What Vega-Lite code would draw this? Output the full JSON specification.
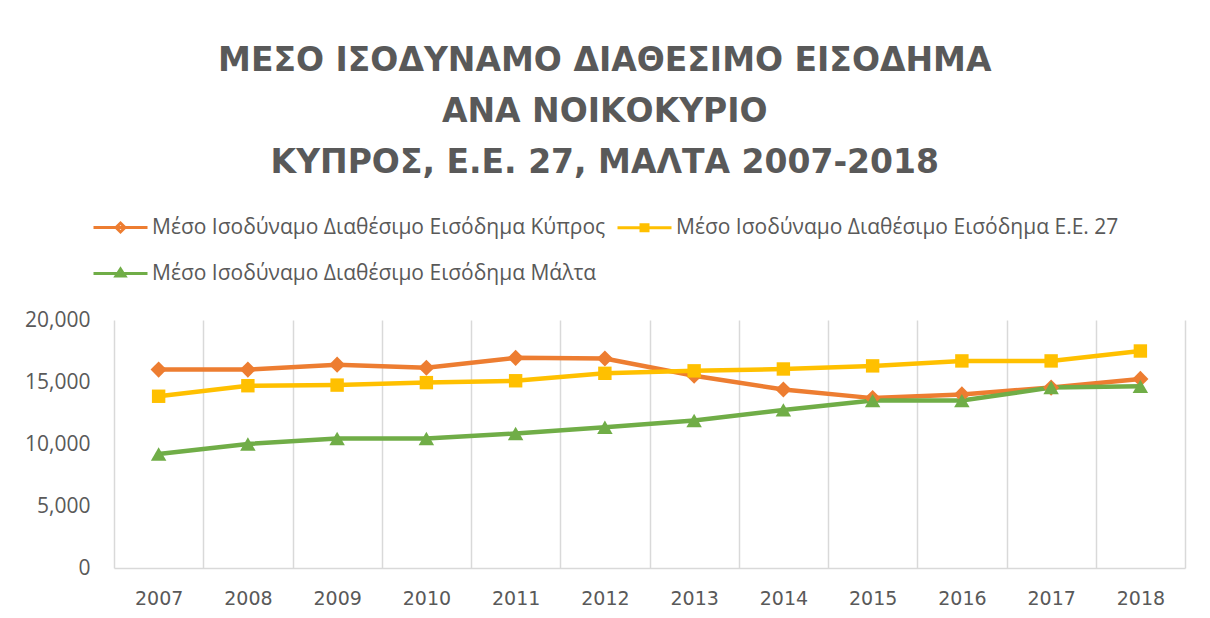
{
  "$schema": "https://vega.github.io/schema/vega-lite/v6.json",
  "width": 1071,
  "height": 248,
  "autosize": {"type": "none"},
  "padding": {"left": 114, "top": 320, "right": 25, "bottom": 50},
  "background": "white",
  "config": {
    "view": {"stroke": null},
    "font": "Open Sans"
  },
  "title": {
    "text": ["ΜΕΣΟ ΙΣΟΔΥΝΑΜΟ ΔΙΑΘΕΣΙΜΟ ΕΙΣΟΔΗΜΑ", "ΑΝΑ ΝΟΙΚΟΚΥΡΙΟ", "ΚΥΠΡΟΣ, Ε.Ε. 27, ΜΑΛΤΑ 2007-2018"],
    "font": "DejaVu Sans",
    "fontSize": 33,
    "fontWeight": "bold",
    "color": "#595959",
    "lineHeight": 51,
    "anchor": "middle",
    "frame": "bounds",
    "offset": 36
  },
  "resolve": {"legend": {"color": "independent", "shape": "independent"}},
  "data": {
    "values": [
      {"year": "2007", "series": "Μέσο Ισοδύναμο Διαθέσιμο Εισόδημα Κύπρος", "value": 16000},
      {"year": "2008", "series": "Μέσο Ισοδύναμο Διαθέσιμο Εισόδημα Κύπρος", "value": 16000},
      {"year": "2009", "series": "Μέσο Ισοδύναμο Διαθέσιμο Εισόδημα Κύπρος", "value": 16400},
      {"year": "2010", "series": "Μέσο Ισοδύναμο Διαθέσιμο Εισόδημα Κύπρος", "value": 16150},
      {"year": "2011", "series": "Μέσο Ισοδύναμο Διαθέσιμο Εισόδημα Κύπρος", "value": 16950},
      {"year": "2012", "series": "Μέσο Ισοδύναμο Διαθέσιμο Εισόδημα Κύπρος", "value": 16900},
      {"year": "2013", "series": "Μέσο Ισοδύναμο Διαθέσιμο Εισόδημα Κύπρος", "value": 15500},
      {"year": "2014", "series": "Μέσο Ισοδύναμο Διαθέσιμο Εισόδημα Κύπρος", "value": 14400},
      {"year": "2015", "series": "Μέσο Ισοδύναμο Διαθέσιμο Εισόδημα Κύπρος", "value": 13700},
      {"year": "2016", "series": "Μέσο Ισοδύναμο Διαθέσιμο Εισόδημα Κύπρος", "value": 14000},
      {"year": "2017", "series": "Μέσο Ισοδύναμο Διαθέσιμο Εισόδημα Κύπρος", "value": 14550},
      {"year": "2018", "series": "Μέσο Ισοδύναμο Διαθέσιμο Εισόδημα Κύπρος", "value": 15250},
      {"year": "2007", "series": "Μέσο Ισοδύναμο Διαθέσιμο Εισόδημα Ε.Ε. 27", "value": 13850},
      {"year": "2008", "series": "Μέσο Ισοδύναμο Διαθέσιμο Εισόδημα Ε.Ε. 27", "value": 14700},
      {"year": "2009", "series": "Μέσο Ισοδύναμο Διαθέσιμο Εισόδημα Ε.Ε. 27", "value": 14750},
      {"year": "2010", "series": "Μέσο Ισοδύναμο Διαθέσιμο Εισόδημα Ε.Ε. 27", "value": 14950},
      {"year": "2011", "series": "Μέσο Ισοδύναμο Διαθέσιμο Εισόδημα Ε.Ε. 27", "value": 15100},
      {"year": "2012", "series": "Μέσο Ισοδύναμο Διαθέσιμο Εισόδημα Ε.Ε. 27", "value": 15700},
      {"year": "2013", "series": "Μέσο Ισοδύναμο Διαθέσιμο Εισόδημα Ε.Ε. 27", "value": 15900},
      {"year": "2014", "series": "Μέσο Ισοδύναμο Διαθέσιμο Εισόδημα Ε.Ε. 27", "value": 16050},
      {"year": "2015", "series": "Μέσο Ισοδύναμο Διαθέσιμο Εισόδημα Ε.Ε. 27", "value": 16300},
      {"year": "2016", "series": "Μέσο Ισοδύναμο Διαθέσιμο Εισόδημα Ε.Ε. 27", "value": 16700},
      {"year": "2017", "series": "Μέσο Ισοδύναμο Διαθέσιμο Εισόδημα Ε.Ε. 27", "value": 16700},
      {"year": "2018", "series": "Μέσο Ισοδύναμο Διαθέσιμο Εισόδημα Ε.Ε. 27", "value": 17500},
      {"year": "2007", "series": "Μέσο Ισοδύναμο Διαθέσιμο Εισόδημα Μάλτα", "value": 9200},
      {"year": "2008", "series": "Μέσο Ισοδύναμο Διαθέσιμο Εισόδημα Μάλτα", "value": 10000},
      {"year": "2009", "series": "Μέσο Ισοδύναμο Διαθέσιμο Εισόδημα Μάλτα", "value": 10450},
      {"year": "2010", "series": "Μέσο Ισοδύναμο Διαθέσιμο Εισόδημα Μάλτα", "value": 10450},
      {"year": "2011", "series": "Μέσο Ισοδύναμο Διαθέσιμο Εισόδημα Μάλτα", "value": 10850},
      {"year": "2012", "series": "Μέσο Ισοδύναμο Διαθέσιμο Εισόδημα Μάλτα", "value": 11350},
      {"year": "2013", "series": "Μέσο Ισοδύναμο Διαθέσιμο Εισόδημα Μάλτα", "value": 11900},
      {"year": "2014", "series": "Μέσο Ισοδύναμο Διαθέσιμο Εισόδημα Μάλτα", "value": 12750},
      {"year": "2015", "series": "Μέσο Ισοδύναμο Διαθέσιμο Εισόδημα Μάλτα", "value": 13500},
      {"year": "2016", "series": "Μέσο Ισοδύναμο Διαθέσιμο Εισόδημα Μάλτα", "value": 13500},
      {"year": "2017", "series": "Μέσο Ισοδύναμο Διαθέσιμο Εισόδημα Μάλτα", "value": 14550},
      {"year": "2018", "series": "Μέσο Ισοδύναμο Διαθέσιμο Εισόδημα Μάλτα", "value": 14650}
    ]
  },
  "encoding": {
    "x": {
      "field": "year",
      "type": "ordinal",
      "bandPosition": 0.5,
      "scale": {"type": "band", "paddingInner": 0, "paddingOuter": 0},
      "axis": {
        "title": null,
        "labelAngle": 0,
        "labelFont": "DejaVu Sans",
        "labelFontSize": 19,
        "labelColor": "#595959",
        "labelPadding": 21,
        "ticks": false,
        "grid": true,
        "tickBand": "extent",
        "gridColor": "#d9d9d9",
        "gridWidth": 1.5,
        "domainColor": "#d9d9d9",
        "domainWidth": 1.5
      }
    },
    "y": {
      "field": "value",
      "type": "quantitative",
      "scale": {"domain": [0, 20000], "nice": false},
      "axis": {
        "title": null,
        "values": [0, 5000, 10000, 15000, 20000],
        "format": ",.0f",
        "domain": false,
        "ticks": false,
        "grid": false,
        "labelFont": "Open Sans",
        "labelFontSize": 21,
        "labelColor": "#595959",
        "labelPadding": 24
      }
    },
    "color": {
      "field": "series",
      "type": "nominal",
      "scale": {
        "domain": ["Μέσο Ισοδύναμο Διαθέσιμο Εισόδημα Κύπρος", "Μέσο Ισοδύναμο Διαθέσιμο Εισόδημα Ε.Ε. 27", "Μέσο Ισοδύναμο Διαθέσιμο Εισόδημα Μάλτα"],
        "range": ["#ED7D31", "#FFC000", "#70AD47"]
      },
      "legend": null
    }
  },
  "layer": [
    {
      "mark": {"type": "line", "strokeWidth": 4.5}
    },
    {
      "transform": [{"filter": "datum.series === 'Μέσο Ισοδύναμο Διαθέσιμο Εισόδημα Κύπρος'"}],
      "mark": {"type": "point", "shape": "diamond", "filled": true, "opacity": 1, "size": 260}
    },
    {
      "transform": [{"filter": "datum.series === 'Μέσο Ισοδύναμο Διαθέσιμο Εισόδημα Ε.Ε. 27'"}],
      "mark": {"type": "point", "shape": "square", "filled": true, "opacity": 1, "size": 180}
    },
    {
      "transform": [{"filter": "datum.series === 'Μέσο Ισοδύναμο Διαθέσιμο Εισόδημα Μάλτα'"}],
      "mark": {"type": "point", "shape": "triangle-up", "filled": true, "opacity": 1, "size": 240}
    },
    {
      "transform": [{"filter": "datum.value < 0"}],
      "mark": {"type": "point", "filled": false, "strokeWidth": 3, "size": 400, "opacity": 1},
      "encoding": {
        "color": {
          "field": "series",
          "type": "nominal",
          "legend": {
            "title": null,
            "orient": "none",
            "direction": "horizontal",
            "legendX": -22,
            "legendY": -104,
            "columns": 2,
            "columnPadding": 5,
            "rowPadding": 24,
            "padding": 0,
            "labelFont": "Open Sans",
            "labelFontSize": 21,
            "labelColor": "#595959",
            "labelLimit": 0,
            "labelOffset": 37,
            "symbolSize": 400,
            "symbolStrokeWidth": 3
          }
        },
        "shape": {
          "field": "series",
          "type": "nominal",
          "scale": {
            "domain": ["Μέσο Ισοδύναμο Διαθέσιμο Εισόδημα Κύπρος", "Μέσο Ισοδύναμο Διαθέσιμο Εισόδημα Ε.Ε. 27", "Μέσο Ισοδύναμο Διαθέσιμο Εισόδημα Μάλτα"],
            "range": [
              "M-1,0H4.4M1.7,-0.45L2.15,0L1.7,0.45L1.25,0Z",
              "M-1,0H4.4M1.35,-0.3H2.05V0.3H1.35Z",
              "M-1,0H4.4M1.7,-0.45L2.15,0.25L1.25,0.25Z"
            ]
          },
          "legend": {
            "title": null,
            "orient": "none",
            "direction": "horizontal",
            "legendX": -22,
            "legendY": -104,
            "columns": 2,
            "columnPadding": 5,
            "rowPadding": 24,
            "padding": 0,
            "labelFont": "Open Sans",
            "labelFontSize": 21,
            "labelColor": "#595959",
            "labelLimit": 0,
            "labelOffset": 37,
            "symbolSize": 400,
            "symbolStrokeWidth": 3
          }
        }
      }
    }
  ]
}
